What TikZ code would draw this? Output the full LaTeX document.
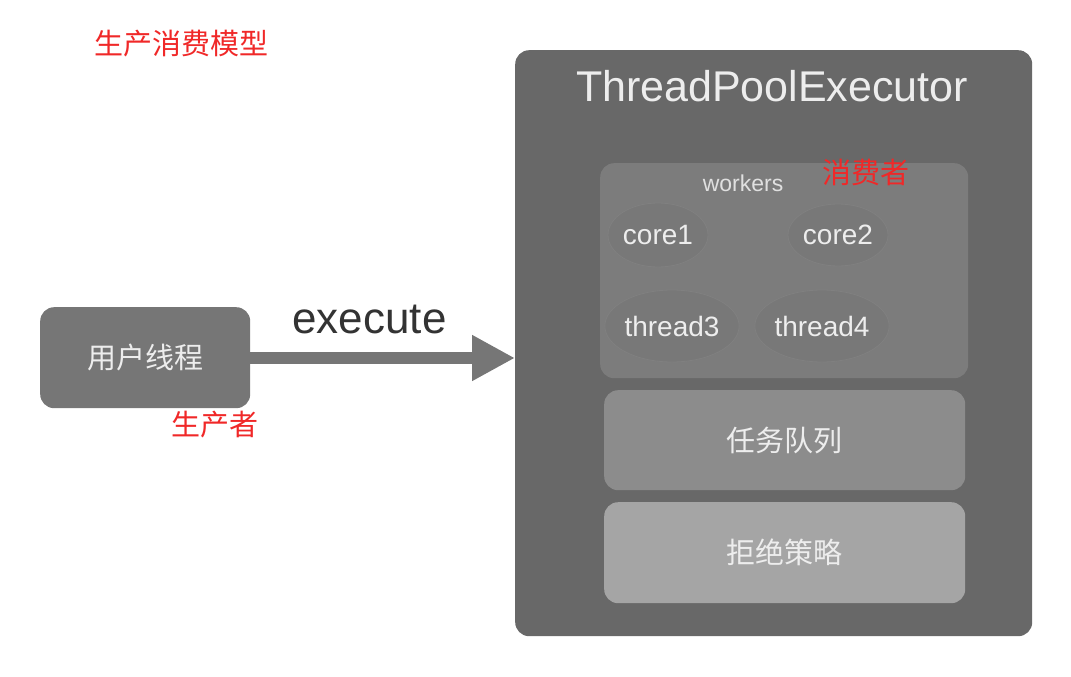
\documentclass[tikz,border=0pt]{standalone}
\usepackage{fontspec}
\setmainfont{Liberation Sans}
\newfontfamily\cjk{Noto Sans CJK SC}
\usepackage{xcolor}
\usetikzlibrary{shapes.geometric,arrows.meta,positioning}
\definecolor{poolgray}{RGB}{104,104,104}
\definecolor{workgray}{RGB}{124,124,124}
\definecolor{ovalgray}{RGB}{120,120,120}
\definecolor{queuegray}{RGB}{140,140,140}
\definecolor{rejectgray}{RGB}{165,165,165}
\definecolor{usergray}{RGB}{118,118,118}
\definecolor{notered}{RGB}{240,40,40}

\begin{document}
\begin{tikzpicture}[
  x=1pt, y=-1pt,
  panel/.style={rounded corners=14pt, inner sep=0pt, anchor=north west},
  worker/.style={ellipse, draw=black!50, line width=0.8pt, fill=ovalgray,
                 inner sep=0pt, text=white!93!black, font=\fontsize{28}{28}\selectfont},
  inbox/.style={panel, minimum width=361pt, minimum height=100pt},
  boxtext/.style={text=white!93!black, font=\cjk\fontsize{29}{29}\selectfont},
  note/.style={text=notered, font=\cjk\fontsize{29}{29}\selectfont, inner sep=0pt},
  arr/.style={-{Triangle[length=43pt,width=43pt]}, line width=12pt, draw=usergray}
]
\useasboundingbox (0,0) rectangle (1071,677);

% ── Title ────────────────────────────────────────────────────────────────────
\node[note] (title) at (181,44) {生产消费模型};

% ── Executor panel ───────────────────────────────────────────────────────────
\node[panel, fill=poolgray, minimum width=517pt, minimum height=586pt]
  (pool) at (515,50) {};
\node[text=white!93!black, font=\fontsize{43}{43}\selectfont, inner sep=0pt]
  (pooltitle) at (772,86) {ThreadPoolExecutor};

% ── Workers ──────────────────────────────────────────────────────────────────
\node[panel, fill=workgray, minimum width=368pt, minimum height=215pt]
  (workers) at (600,163) {};
\node[text=white!88!black, font=\fontsize{23}{23}\selectfont, inner sep=0pt]
  (worklabel) at (743,183) {workers};
\node[note] (consumer) at (866,172) {消费者};

\node[worker, minimum width=100pt, minimum height=64pt] (core1) at (658,235) {core1};
\node[worker, minimum width=100pt, minimum height=62pt] (core2) at (838,235) {core2};
\node[worker, minimum width=133pt, minimum height=72pt] (thread3) at (672,326) {thread3};
\node[worker, minimum width=134pt, minimum height=72pt] (thread4) at (822,326) {thread4};

% ── Queue and rejection ──────────────────────────────────────────────────────
\node[inbox, fill=queuegray] (queue) at (604,390) {};
\node[boxtext] at (queue.center) {任务队列};
\node[inbox, fill=rejectgray, minimum height=101pt] (reject) at (604,502) {};
\node[boxtext] at (reject.center) {拒绝策略};

% ── User thread ──────────────────────────────────────────────────────────────
\node[panel, fill=usergray, minimum width=210pt, minimum height=101pt]
  (user) at (40,307) {};
\node[boxtext] at (user.center) {用户线程};
\node[note] (producer) at (215,425) {生产者};

% ── Arrow: user → executor ───────────────────────────────────────────────────
\draw[arr] (user.east |- 0,358) -- node[above=18pt, text=black!80, inner sep=0pt,
  font=\fontsize{44}{44}\selectfont, pos=0.45] (exec) {execute} (pool.west |- 0,358);
\end{tikzpicture}
\end{document}
